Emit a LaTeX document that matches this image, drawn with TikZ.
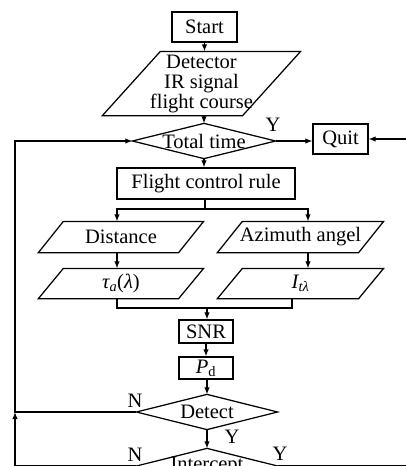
\documentclass[tikz,border=0pt]{standalone}
\usepackage{fontspec}
\setmainfont{Liberation Serif}
\usetikzlibrary{arrows.meta}
\newcommand\parabox[2]{\draw ([xshift=#2pt]#1.north west) -- (#1.north east) -- ([xshift=-#2pt]#1.south east) -- (#1.south west) -- cycle;}
\newcommand\diabox[1]{\draw (#1.north) -- (#1.east) -- (#1.south) -- (#1.west) -- cycle;}
\begin{document}
\begin{tikzpicture}[x=1pt,y=-1pt, line width=1.25pt,
  arr/.style={-{Latex[length=7pt,width=5.5pt]}},
  txt/.style={font=\fontsize{20.5}{20}\selectfont},
  box/.style={draw, rectangle, inner sep=0pt, txt},
  shp/.style={rectangle, inner sep=0pt, align=center, txt},
  lbl/.style={inner sep=0pt, txt}]
\useasboundingbox (0,0) rectangle (406,466);
\clip (0,0) rectangle (406,466);
% nodes
\node[box, minimum width=65pt, minimum height=30pt] (start) at (204.5,27) {Start};
\node[shp, minimum width=197pt, minimum height=63pt] (det) at (201.5,83.5) {Detector\\IR signal\\flight course};
\parabox{det}{58}
\node[shp, minimum width=142pt, minimum height=34pt] (tt) at (204,141) {Total time};
\diabox{tt}
\node[box, minimum width=55pt, minimum height=30pt] (quit) at (340.5,139) {Quit};
\node[box, minimum width=178pt, minimum height=31pt] (fcr) at (206,183.5) {Flight control rule};
\node[shp, minimum width=164pt, minimum height=30pt] (dist) at (121,237) {Distance};
\parabox{dist}{25}
\node[shp, minimum width=165pt, minimum height=30pt] (azi) at (300.5,237) {Azimuth angel};
\parabox{azi}{25}
\node[shp, minimum width=164pt, minimum height=29pt] (tau) at (121,283.5) {\itshape τ\textsubscript{a}\upshape(\itshape λ\upshape)};
\parabox{tau}{25}
\node[shp, minimum width=165pt, minimum height=29pt] (ita) at (300.5,283.5) {\itshape I\textsubscript{tλ}};
\parabox{ita}{25}
\node[box, minimum width=54pt, minimum height=23pt] (snr) at (206,331.5) {SNR};
\node[box, minimum width=54pt, minimum height=22pt] (pd) at (206,368) {\itshape P\upshape\textsubscript{d}};
\node[shp, minimum width=140pt, minimum height=34pt] (detect) at (207,412) {Detect};
\diabox{detect}
\node[shp, minimum width=140pt, minimum height=34pt] (int) at (207,466) {Intercept};
\diabox{int}
% labels
\node[lbl] (y1) at (273,125) {Y};
\node[lbl] (n1) at (135,401) {N};
\node[lbl] (y2) at (232,437) {Y};
\node[lbl] (n2) at (135,455) {N};
\node[lbl] (y3) at (280,454) {Y};
% coordinates
\coordinate (split) at (205,209);
\coordinate (merge) at (207,308);
\coordinate (L1) at (15,412);
\coordinate (R1) at (420,466);
% connectors
\draw[arr] (start.south) -- (start.south |- det.north);
\draw[arr] (det.south -| tt.north) -- (tt.north);
\draw[arr] (tt.east) -- (tt.east -| quit.west);
\draw[arr] (tt.south) -- (tt.south |- fcr.north);
\draw (fcr.south -| split) -- (split);
\draw[arr] (split) -| ([xshift=-4pt]dist.north);
\draw[arr] (split) -| ([xshift=7.5pt]azi.north);
\draw[arr] ([xshift=-4pt]dist.south) -- ([xshift=-4pt]tau.north);
\draw[arr] ([xshift=7.5pt]azi.south) -- ([xshift=7.5pt]ita.north);
\draw ([xshift=-4pt]tau.south) |- (merge);
\draw ([xshift=-8.5pt]ita.south) |- (merge);
\draw[arr] (merge) -- (merge |- snr.north);
\draw[arr] (snr.south) -- (pd.north);
\draw[arr] (pd.south -| detect.north) -- (detect.north);
\draw[arr] (detect.south) -- (int.north);
\draw[arr] (detect.west) -- (L1) |- (tt.west);
\draw[arr] (int.west) -| (L1);
\draw[arr] (int.east) -- (R1) |- (quit.east);
\end{tikzpicture}
\end{document}
